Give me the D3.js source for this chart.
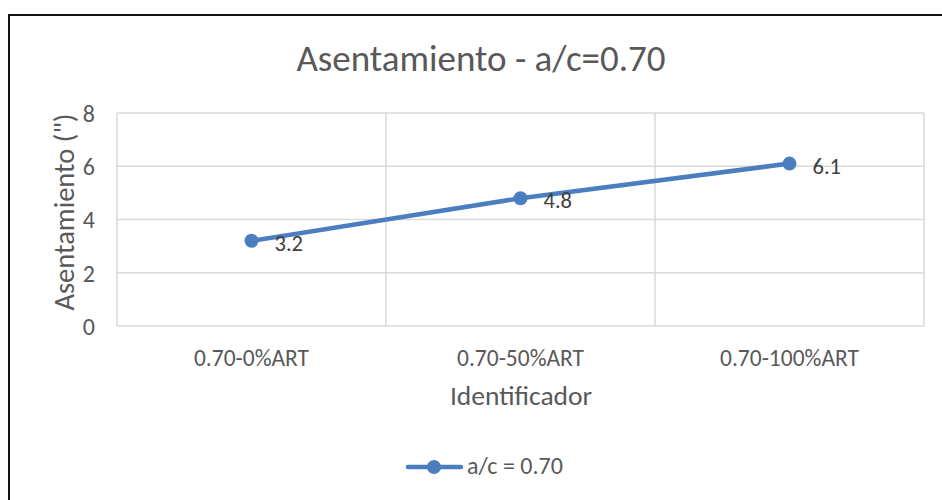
<!DOCTYPE html>
<html><head><meta charset="utf-8">
<script src="https://cdn.jsdelivr.net/npm/d3@7"></script>
<style>body{margin:0;background:#fff}svg{display:block}text{font-family:Carlito,Lato,"Open Sans",sans-serif}</style>
</head><body>
<script>
const categories = ["0.70-0%ART","0.70-50%ART","0.70-100%ART"];
const values = [3.2, 4.8, 6.1];
const yTicks = [0,2,4,6,8];
const seriesName = "a/c = 0.70";
const title = "Asentamiento - a/c=0.70";
const xTitle = "Identificador";
const yTitle = "Asentamiento (\")";

const W=942,H=500;
const svg=d3.select("body").append("svg").attr("width",W).attr("height",H);
svg.append("rect").attr("width",W).attr("height",H).attr("fill","#fff");
svg.append("path").attr("d",`M9,${H} V15 H${W}`).attr("fill","none").attr("stroke","#111").attr("stroke-width",2);

const L=117,R=924,T=113,B=326;
const x=d3.scaleBand().domain(categories).range([L,R]);
const y=d3.scaleLinear().domain([0,8]).range([B,T]);
const grid="#d9d9d9", txt="#595959";
const ff="Carlito,Lato,sans-serif";

svg.append("g").selectAll("line").data(yTicks).join("line")
 .attr("x1",L).attr("x2",R).attr("y1",d=>y(d)).attr("y2",d=>y(d))
 .attr("stroke",grid).attr("stroke-width",1.5);
const bounds=categories.map(c=>x(c)).concat([x(categories[categories.length-1])+x.bandwidth()]);
svg.append("g").selectAll("line").data(bounds).join("line")
 .attr("x1",d=>d).attr("x2",d=>d).attr("y1",T).attr("y2",B)
 .attr("stroke",grid).attr("stroke-width",1.5);

const ya=svg.append("g").attr("transform",`translate(${L},0)`).call(d3.axisLeft(y).tickValues(yTicks).tickSize(0).tickPadding(22));
ya.select(".domain").remove();
ya.selectAll("text").attr("font-size",24).attr("fill",txt).attr("dy","0.35em").style("font-family",ff);
const xa=svg.append("g").attr("transform",`translate(0,${B})`).call(d3.axisBottom(x).tickSize(0).tickPadding(0));
xa.select(".domain").remove();
xa.selectAll("text").attr("font-size",23.5).attr("fill",txt).attr("dy",0).attr("y",40).style("font-family",ff);

const blue="#4a7ebf";
const cx=d=>x(d.c)+x.bandwidth()/2;
const pts=categories.map((c,i)=>({c,v:values[i]}));
svg.append("path").datum(pts).attr("fill","none").attr("stroke",blue).attr("stroke-width",4.5).attr("stroke-linecap","round")
 .attr("d",d3.line().x(cx).y(d=>y(d.v)));
svg.append("g").selectAll("circle").data(pts).join("circle")
 .attr("cx",cx).attr("cy",d=>y(d.v)).attr("r",7).attr("fill",blue);
svg.append("g").selectAll("text").data(pts).join("text")
 .attr("x",d=>cx(d)+23).attr("y",d=>y(d.v)+10).attr("font-size",22.5).attr("fill","#404040")
 .text(d=>d.v.toFixed(1));

svg.append("text").attr("x",481).attr("y",71).attr("text-anchor","middle").attr("font-size",37).attr("fill",txt).text(title);
svg.append("text").attr("x",521).attr("y",405).attr("text-anchor","middle").attr("font-size",27.5).attr("fill",txt).text(xTitle);
svg.append("text").attr("transform",`translate(74,212) rotate(-90)`).attr("text-anchor","middle").attr("font-size",28.5).attr("fill",txt).text(yTitle);

const lg=svg.append("g");
lg.append("line").attr("x1",408).attr("x2",461).attr("y1",467).attr("y2",467).attr("stroke",blue).attr("stroke-width",4.5).attr("stroke-linecap","round");
lg.append("circle").attr("cx",434).attr("cy",467).attr("r",7).attr("fill",blue);
lg.append("text").attr("x",467).attr("y",474).attr("font-size",24).attr("fill",txt).text(seriesName);
</script>
</body></html>
